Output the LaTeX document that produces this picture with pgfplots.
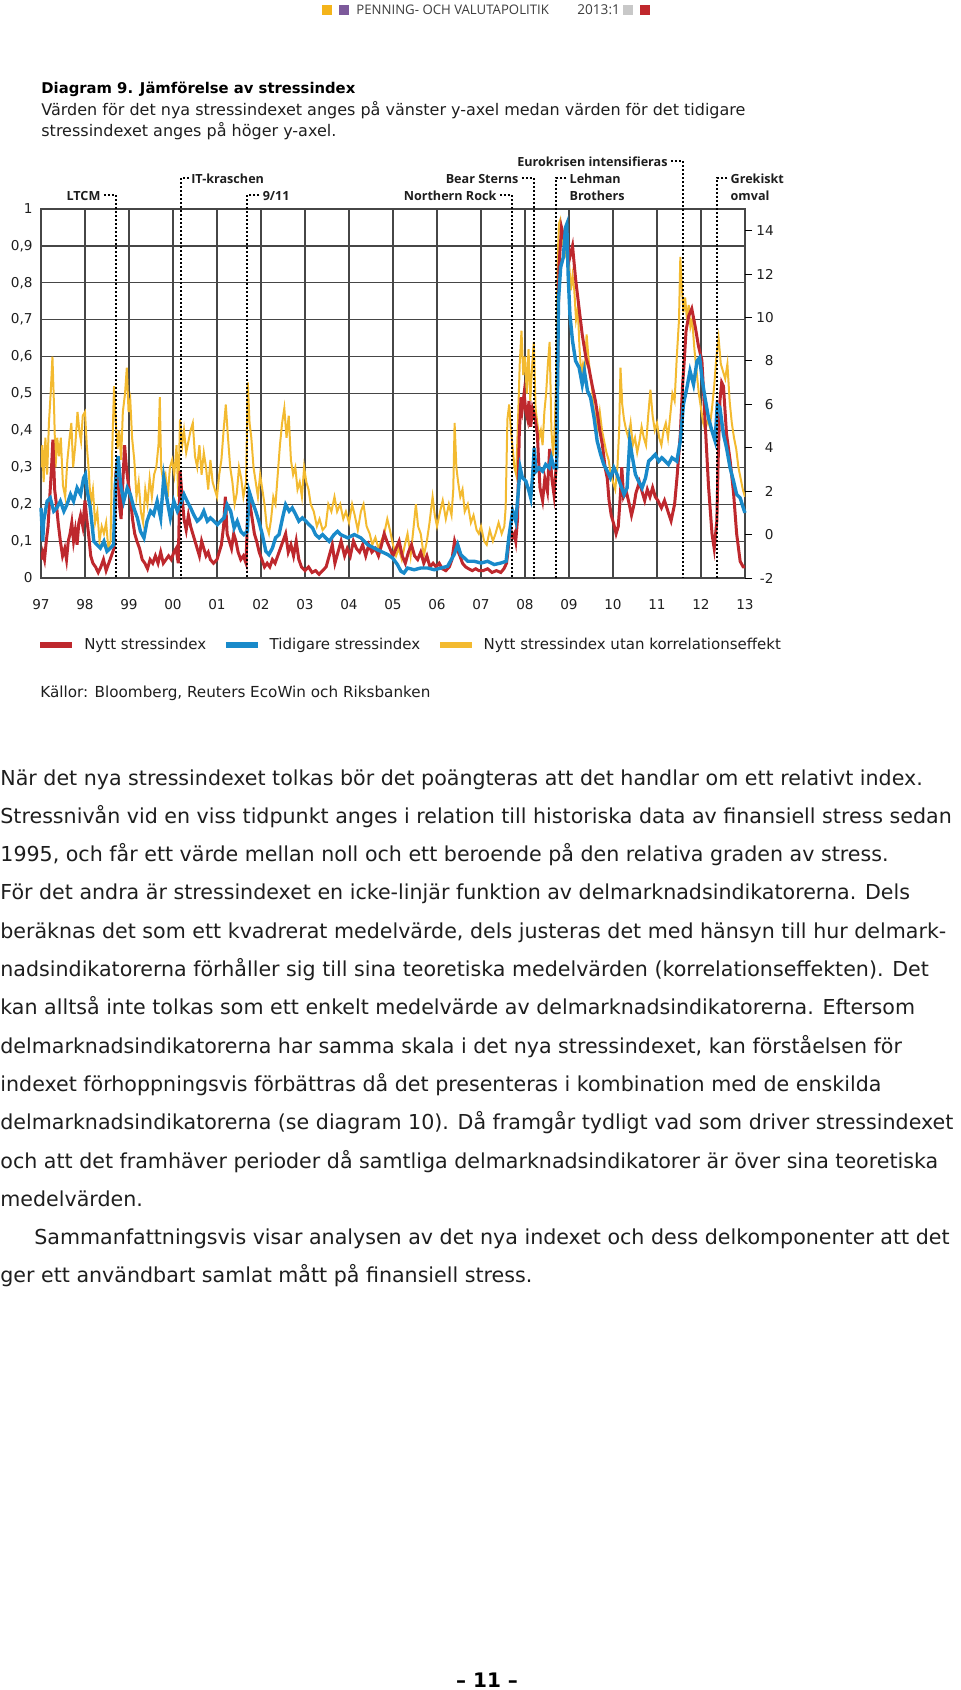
\documentclass[border=0pt]{standalone}
\usepackage{fontspec}
\setmainfont{DejaVu Sans}
\newfontfamily\osfont{Open Sans}
\usepackage{pgfplots}
\usepackage{pgfplotstable}
\pgfplotsset{compat=1.18}

\definecolor{nyttred}{RGB}{190,40,45}
\definecolor{tidblue}{RGB}{25,138,202}
\definecolor{utanyel}{RGB}{243,186,48}
\definecolor{gridc}{RGB}{70,70,70}
\definecolor{txt}{RGB}{30,30,30}
\definecolor{hdrtxt}{RGB}{60,60,60}
\definecolor{hdryel}{RGB}{244,180,26}
\definecolor{hdrpur}{RGB}{125,90,155}
\definecolor{hdrgry}{RGB}{200,200,200}
\definecolor{hdrred}{RGB}{192,40,45}

% Nytt stressindex (left axis)
\pgfplotstableread{
x y
1997.00 0.05
1997.04 0.07
1997.08 0.05
1997.12 0.10
1997.16 0.14
1997.20 0.22
1997.24 0.30
1997.27 0.375
1997.31 0.24
1997.35 0.20
1997.39 0.15
1997.44 0.10
1997.49 0.06
1997.54 0.08
1997.58 0.05
1997.62 0.10
1997.66 0.12
1997.70 0.15
1997.74 0.10
1997.78 0.13
1997.82 0.09
1997.86 0.15
1997.90 0.17
1997.95 0.14
1998.00 0.21
1998.04 0.16
1998.08 0.12
1998.13 0.06
1998.18 0.04
1998.24 0.03
1998.30 0.015
1998.36 0.03
1998.42 0.05
1998.48 0.02
1998.54 0.04
1998.60 0.06
1998.66 0.08
1998.70 0.28
1998.74 0.32
1998.78 0.20
1998.82 0.16
1998.86 0.26
1998.90 0.36
1998.94 0.30
1998.98 0.26
1999.03 0.22
1999.08 0.16
1999.13 0.12
1999.18 0.10
1999.24 0.08
1999.30 0.05
1999.36 0.04
1999.42 0.025
1999.48 0.05
1999.54 0.04
1999.60 0.06
1999.66 0.04
1999.72 0.07
1999.78 0.04
1999.84 0.05
1999.90 0.06
1999.96 0.05
2000.02 0.07
2000.07 0.08
2000.12 0.04
2000.16 0.29
2000.20 0.23
2000.25 0.16
2000.30 0.13
2000.35 0.17
2000.40 0.14
2000.45 0.12
2000.50 0.10
2000.55 0.08
2000.60 0.06
2000.65 0.10
2000.70 0.08
2000.75 0.06
2000.80 0.07
2000.85 0.05
2000.92 0.04
2001.00 0.05
2001.05 0.07
2001.10 0.09
2001.15 0.14
2001.19 0.22
2001.23 0.12
2001.28 0.10
2001.33 0.08
2001.38 0.12
2001.43 0.10
2001.48 0.07
2001.54 0.05
2001.60 0.06
2001.66 0.04
2001.71 0.235
2001.75 0.20
2001.80 0.16
2001.85 0.12
2001.90 0.10
2001.96 0.07
2002.02 0.05
2002.08 0.03
2002.14 0.04
2002.20 0.03
2002.26 0.05
2002.32 0.04
2002.38 0.06
2002.44 0.08
2002.50 0.10
2002.56 0.12
2002.62 0.07
2002.68 0.09
2002.74 0.06
2002.80 0.10
2002.86 0.05
2002.92 0.03
2003.00 0.02
2003.08 0.03
2003.16 0.015
2003.24 0.02
2003.32 0.01
2003.40 0.02
2003.48 0.03
2003.55 0.06
2003.62 0.09
2003.68 0.04
2003.75 0.07
2003.82 0.10
2003.90 0.06
2003.96 0.08
2004.03 0.06
2004.10 0.10
2004.17 0.08
2004.24 0.07
2004.31 0.09
2004.38 0.06
2004.45 0.09
2004.52 0.07
2004.60 0.08
2004.67 0.06
2004.74 0.09
2004.80 0.12
2004.86 0.10
2004.93 0.08
2005.00 0.06
2005.07 0.08
2005.14 0.10
2005.21 0.06
2005.28 0.04
2005.35 0.07
2005.42 0.09
2005.49 0.06
2005.56 0.05
2005.63 0.07
2005.70 0.04
2005.77 0.06
2005.84 0.03
2005.91 0.04
2005.98 0.03
2006.05 0.04
2006.12 0.025
2006.20 0.02
2006.28 0.03
2006.34 0.05
2006.40 0.10
2006.45 0.08
2006.52 0.06
2006.58 0.04
2006.65 0.03
2006.72 0.025
2006.80 0.02
2006.88 0.025
2006.95 0.02
2007.05 0.02
2007.15 0.025
2007.25 0.015
2007.35 0.02
2007.45 0.015
2007.52 0.025
2007.58 0.04
2007.61 0.07
2007.65 0.12
2007.68 0.13
2007.72 0.11
2007.76 0.12
2007.79 0.10
2007.83 0.16
2007.87 0.39
2007.91 0.49
2007.94 0.46
2007.98 0.50
2008.02 0.45
2008.06 0.43
2008.09 0.48
2008.13 0.41
2008.17 0.46
2008.22 0.44
2008.28 0.39
2008.34 0.245
2008.40 0.21
2008.45 0.27
2008.51 0.235
2008.56 0.35
2008.61 0.27
2008.66 0.225
2008.72 0.32
2008.77 0.84
2008.83 0.95
2008.89 0.92
2008.95 0.94
2009.00 0.86
2009.08 0.90
2009.15 0.81
2009.23 0.73
2009.30 0.66
2009.38 0.60
2009.45 0.57
2009.53 0.52
2009.60 0.48
2009.64 0.45
2009.70 0.40
2009.76 0.36
2009.82 0.30
2009.87 0.27
2009.91 0.21
2009.96 0.17
2010.02 0.145
2010.07 0.12
2010.12 0.14
2010.17 0.23
2010.20 0.30
2010.24 0.22
2010.30 0.235
2010.37 0.20
2010.42 0.17
2010.48 0.20
2010.52 0.23
2010.60 0.26
2010.67 0.23
2010.72 0.21
2010.78 0.24
2010.84 0.22
2010.90 0.245
2010.96 0.22
2011.02 0.21
2011.10 0.19
2011.17 0.21
2011.25 0.18
2011.32 0.155
2011.40 0.20
2011.46 0.28
2011.53 0.39
2011.58 0.52
2011.62 0.59
2011.66 0.67
2011.72 0.71
2011.79 0.73
2011.87 0.68
2011.94 0.63
2012.02 0.59
2012.09 0.43
2012.17 0.25
2012.25 0.12
2012.30 0.08
2012.36 0.155
2012.39 0.32
2012.43 0.48
2012.47 0.53
2012.51 0.52
2012.58 0.39
2012.66 0.32
2012.74 0.23
2012.81 0.12
2012.89 0.045
2012.96 0.03
2013.00 0.03
}\nytt

% Nytt stressindex utan korrelationseffekt (left axis)
\pgfplotstableread{
x y
1997.00 0.30
1997.03 0.36
1997.06 0.26
1997.10 0.38
1997.14 0.28
1997.18 0.42
1997.22 0.50
1997.26 0.60
1997.30 0.45
1997.33 0.30
1997.37 0.38
1997.41 0.33
1997.45 0.38
1997.50 0.25
1997.55 0.22
1997.60 0.32
1997.65 0.38
1997.69 0.42
1997.73 0.30
1997.78 0.36
1997.83 0.45
1997.87 0.40
1997.91 0.37
1997.95 0.44
1998.00 0.45
1998.04 0.36
1998.08 0.30
1998.13 0.20
1998.18 0.24
1998.23 0.15
1998.28 0.18
1998.33 0.10
1998.38 0.14
1998.43 0.12
1998.48 0.15
1998.53 0.08
1998.58 0.10
1998.62 0.35
1998.66 0.52
1998.70 0.42
1998.74 0.35
1998.78 0.40
1998.82 0.32
1998.86 0.45
1998.91 0.50
1998.95 0.57
1998.99 0.45
1999.03 0.48
1999.07 0.38
1999.12 0.32
1999.17 0.22
1999.22 0.26
1999.27 0.18
1999.32 0.15
1999.37 0.24
1999.42 0.20
1999.47 0.27
1999.52 0.22
1999.57 0.28
1999.62 0.30
1999.67 0.36
1999.70 0.49
1999.73 0.30
1999.78 0.26
1999.83 0.28
1999.88 0.22
1999.93 0.30
1999.98 0.32
2000.03 0.28
2000.08 0.36
2000.12 0.22
2000.16 0.43
2000.21 0.36
2000.25 0.40
2000.30 0.34
2000.35 0.37
2000.40 0.40
2000.45 0.42
2000.50 0.33
2000.55 0.30
2000.60 0.36
2000.65 0.28
2000.70 0.34
2000.75 0.30
2000.80 0.24
2000.85 0.32
2000.90 0.26
2000.95 0.24
2001.00 0.22
2001.05 0.28
2001.10 0.32
2001.15 0.40
2001.20 0.47
2001.25 0.38
2001.30 0.30
2001.35 0.26
2001.40 0.20
2001.45 0.23
2001.50 0.30
2001.55 0.27
2001.60 0.22
2001.66 0.26
2001.70 0.53
2001.74 0.42
2001.78 0.38
2001.83 0.30
2001.88 0.26
2001.93 0.22
2001.98 0.28
2002.03 0.24
2002.08 0.20
2002.13 0.14
2002.18 0.12
2002.23 0.16
2002.28 0.22
2002.33 0.20
2002.38 0.28
2002.43 0.36
2002.48 0.42
2002.53 0.46
2002.58 0.38
2002.63 0.44
2002.68 0.32
2002.73 0.28
2002.78 0.30
2002.83 0.24
2002.88 0.26
2002.93 0.22
2002.98 0.30
2003.03 0.26
2003.08 0.24
2003.13 0.20
2003.20 0.18
2003.27 0.14
2003.33 0.16
2003.40 0.13
2003.47 0.14
2003.53 0.20
2003.60 0.18
2003.67 0.22
2003.73 0.18
2003.80 0.20
2003.87 0.16
2003.93 0.18
2004.00 0.15
2004.07 0.20
2004.13 0.17
2004.20 0.13
2004.27 0.18
2004.33 0.20
2004.40 0.14
2004.47 0.12
2004.53 0.09
2004.60 0.11
2004.67 0.08
2004.73 0.10
2004.80 0.12
2004.87 0.16
2004.93 0.13
2005.00 0.09
2005.07 0.06
2005.13 0.08
2005.20 0.05
2005.27 0.09
2005.33 0.12
2005.40 0.06
2005.47 0.14
2005.52 0.20
2005.57 0.14
2005.63 0.12
2005.70 0.06
2005.77 0.10
2005.83 0.15
2005.90 0.22
2005.95 0.17
2006.00 0.14
2006.07 0.18
2006.13 0.21
2006.20 0.16
2006.27 0.20
2006.33 0.17
2006.37 0.24
2006.40 0.42
2006.44 0.30
2006.48 0.26
2006.53 0.22
2006.58 0.24
2006.63 0.18
2006.70 0.20
2006.77 0.15
2006.83 0.17
2006.90 0.13
2006.95 0.12
2007.00 0.14
2007.07 0.10
2007.13 0.09
2007.20 0.13
2007.27 0.10
2007.33 0.12
2007.40 0.15
2007.47 0.12
2007.53 0.14
2007.56 0.19
2007.60 0.43
2007.64 0.47
2007.68 0.40
2007.72 0.35
2007.76 0.30
2007.80 0.28
2007.84 0.42
2007.88 0.58
2007.92 0.67
2007.96 0.55
2008.00 0.60
2008.04 0.50
2008.08 0.62
2008.12 0.48
2008.16 0.57
2008.20 0.64
2008.24 0.46
2008.28 0.42
2008.32 0.38
2008.36 0.40
2008.40 0.36
2008.44 0.45
2008.48 0.50
2008.52 0.58
2008.56 0.64
2008.60 0.40
2008.64 0.33
2008.68 0.42
2008.71 0.55
2008.74 0.85
2008.77 0.96
2008.80 0.97
2008.84 0.90
2008.88 0.94
2008.92 0.88
2008.96 0.90
2009.00 0.86
2009.04 0.78
2009.08 0.82
2009.12 0.78
2009.16 0.70
2009.20 0.73
2009.24 0.62
2009.28 0.55
2009.32 0.58
2009.36 0.56
2009.40 0.66
2009.44 0.60
2009.48 0.55
2009.52 0.52
2009.56 0.46
2009.60 0.44
2009.65 0.40
2009.70 0.45
2009.75 0.40
2009.80 0.37
2009.85 0.34
2009.90 0.32
2009.95 0.28
2010.00 0.26
2010.05 0.24
2010.10 0.30
2010.14 0.40
2010.17 0.57
2010.21 0.47
2010.25 0.43
2010.30 0.40
2010.35 0.38
2010.40 0.42
2010.45 0.36
2010.50 0.38
2010.55 0.34
2010.60 0.37
2010.65 0.41
2010.70 0.38
2010.75 0.36
2010.80 0.44
2010.85 0.51
2010.90 0.44
2010.95 0.40
2011.00 0.42
2011.05 0.38
2011.10 0.36
2011.15 0.40
2011.20 0.42
2011.25 0.38
2011.30 0.44
2011.35 0.50
2011.40 0.48
2011.45 0.60
2011.50 0.70
2011.53 0.87
2011.56 0.80
2011.60 0.72
2011.64 0.76
2011.68 0.70
2011.72 0.74
2011.76 0.68
2011.80 0.70
2011.85 0.62
2011.90 0.56
2011.95 0.50
2012.00 0.46
2012.05 0.42
2012.10 0.40
2012.15 0.43
2012.20 0.41
2012.25 0.46
2012.30 0.52
2012.35 0.60
2012.40 0.65
2012.45 0.58
2012.50 0.56
2012.55 0.54
2012.60 0.58
2012.65 0.48
2012.70 0.42
2012.75 0.38
2012.80 0.35
2012.85 0.30
2012.90 0.27
2012.95 0.24
2013.00 0.22
}\utan

% Tidigare stressindex (right axis)
\pgfplotstableread{
x y
1997.00 1.23
1997.04 -0.31
1997.06 0.62
1997.14 1.54
1997.21 1.69
1997.29 1.08
1997.36 1.23
1997.44 1.54
1997.52 1.08
1997.59 1.38
1997.67 1.85
1997.74 1.54
1997.82 2.15
1997.90 1.85
1997.97 2.62
1998.01 2.77
1998.05 2.00
1998.12 1.23
1998.20 -0.31
1998.27 -0.46
1998.35 -0.62
1998.43 -0.31
1998.50 -0.77
1998.58 -0.62
1998.65 -0.46
1998.69 2.31
1998.75 3.62
1998.81 2.31
1998.88 1.54
1998.96 2.15
1999.03 1.85
1999.11 1.23
1999.19 0.77
1999.26 0.15
1999.34 -0.15
1999.41 0.62
1999.49 1.08
1999.56 0.92
1999.64 1.54
1999.72 0.77
1999.79 2.62
1999.87 1.54
1999.94 0.77
2000.02 1.54
2000.10 1.08
2000.17 1.38
2000.25 1.85
2000.32 1.54
2000.40 1.23
2000.47 0.92
2000.55 0.62
2000.63 0.77
2000.70 1.08
2000.78 0.62
2000.85 0.77
2000.93 0.62
2001.01 0.46
2001.08 0.62
2001.16 0.77
2001.23 1.38
2001.31 1.08
2001.39 0.31
2001.46 0.62
2001.54 0.15
2001.61 0.00
2001.69 0.15
2001.73 2.00
2001.80 1.54
2001.88 1.08
2001.95 0.62
2002.03 0.00
2002.11 -0.77
2002.18 -0.92
2002.26 -0.62
2002.33 -0.15
2002.41 0.00
2002.49 0.77
2002.56 1.38
2002.64 1.08
2002.71 1.23
2002.79 0.92
2002.86 0.62
2002.94 0.77
2003.02 0.62
2003.09 0.46
2003.17 0.31
2003.24 0.00
2003.32 -0.15
2003.40 0.00
2003.47 -0.15
2003.55 -0.31
2003.66 0.00
2003.74 0.15
2003.81 0.00
2003.97 -0.15
2004.12 0.00
2004.27 -0.15
2004.42 -0.46
2004.57 -0.62
2004.72 -0.77
2004.88 -0.92
2004.99 -1.08
2005.10 -1.38
2005.18 -1.69
2005.25 -1.77
2005.33 -1.54
2005.48 -1.62
2005.63 -1.54
2005.79 -1.54
2005.94 -1.62
2006.09 -1.54
2006.24 -1.46
2006.39 -0.92
2006.47 -0.46
2006.54 -0.92
2006.70 -1.23
2006.85 -1.23
2007.00 -1.31
2007.15 -1.23
2007.30 -1.38
2007.45 -1.31
2007.57 -1.23
2007.64 0.00
2007.72 1.08
2007.79 0.62
2007.83 1.54
2007.89 3.08
2007.94 2.62
2008.02 2.46
2008.09 2.00
2008.13 1.69
2008.17 2.62
2008.21 4.00
2008.25 2.92
2008.32 3.08
2008.40 2.92
2008.47 3.23
2008.55 3.08
2008.60 3.54
2008.66 3.08
2008.72 3.08
2008.76 10.77
2008.81 12.31
2008.87 12.77
2008.92 14.15
2008.95 14.31
2008.98 12.00
2009.02 10.15
2009.08 8.92
2009.15 8.00
2009.23 7.69
2009.30 6.92
2009.35 7.54
2009.42 6.62
2009.49 6.31
2009.57 5.38
2009.64 4.31
2009.72 3.69
2009.79 3.23
2009.87 2.92
2009.94 2.62
2010.02 3.08
2010.09 2.77
2010.17 2.31
2010.25 1.85
2010.32 2.15
2010.38 4.31
2010.43 3.69
2010.51 2.77
2010.58 2.46
2010.66 2.15
2010.74 2.62
2010.81 3.38
2010.89 3.54
2010.96 3.69
2011.04 3.38
2011.11 3.54
2011.19 3.38
2011.26 3.23
2011.34 3.54
2011.45 3.38
2011.53 4.31
2011.60 6.00
2011.68 6.77
2011.75 7.54
2011.83 6.92
2011.91 8.00
2011.97 8.15
2012.02 7.23
2012.09 6.31
2012.17 5.38
2012.25 4.77
2012.32 4.31
2012.37 6.00
2012.43 5.85
2012.51 4.62
2012.58 4.00
2012.66 3.08
2012.74 2.46
2012.81 1.85
2012.89 1.69
2012.96 1.23
2013.00 1.00
}\tidigare

\tikzset{
  event/.style={black, line width=1pt, dash pattern=on 1pt off 1pt},
  lab/.style={font=\osfont\fontsize{6.3}{7.5}\selectfont\bfseries, inner sep=0pt, text=txt},
  body/.style={anchor=base west, inner sep=0pt, font=\fontsize{10.3}{12}\selectfont, text=txt},
}
% rows of the event labels, in right-axis units
\def\rowA{17.21}
\def\rowB{16.43}
\def\rowC{15.645}

\begin{document}
\begin{tikzpicture}
\begin{scope}[x=0.5pt, y=-0.5pt]
  \path[use as bounding box] (0,0) rectangle (960,1690);
  % header
  \fill[hdryel] (322,5) rectangle (332,15);
  \fill[hdrpur] (339,5) rectangle (349,15);
  \node[anchor=west, inner sep=0pt, font=\osfont\fontsize{6.6}{8}\selectfont, text=hdrtxt] at (356,10) {PENNING- OCH VALUTAPOLITIK};
  \node[anchor=west, inner sep=0pt, font=\osfont\fontsize{6.8}{8}\selectfont, text=hdrtxt] at (577,10) {2013:1};
  \fill[hdrgry] (623,5) rectangle (633,15);
  \fill[hdrred] (640,5) rectangle (650,15);
  % title
  \node[anchor=base west, inner sep=0pt, font=\fontsize{7.4}{9}\selectfont\bfseries, text=black] at (41,94) {Diagram 9. Jämförelse av stressindex};
  \node[anchor=base west, inner sep=0pt, font=\fontsize{8.0}{9}\selectfont, text=txt] at (41,116) {Värden för det nya stressindexet anges på vänster y-axel medan värden för det tidigare};
  \node[anchor=base west, inner sep=0pt, font=\fontsize{8.0}{9}\selectfont, text=txt] at (41,137) {stressindexet anges på höger y-axel.};
  % source
  \node[anchor=base west, inner sep=0pt, font=\fontsize{7.6}{9}\selectfont, text=txt] at (40,697) {Källor: Bloomberg, Reuters EcoWin och Riksbanken};
  % body text
  \node[body] at (0,785) {När det nya stressindexet tolkas bör det poängteras att det handlar om ett relativt index.};
  \node[body] at (0,823.3) {Stressnivån vid en viss tidpunkt anges i relation till historiska data av finansiell stress sedan};
  \node[body] at (0,861.6) {1995, och får ett värde mellan noll och ett beroende på den relativa graden av stress.};
  \node[body] at (0,899.9) {För det andra är stressindexet en icke-linjär funktion av delmarknadsindikatorerna. Dels};
  \node[body] at (0,938.2) {beräknas det som ett kvadrerat medelvärde, dels justeras det med hänsyn till hur delmark-};
  \node[body] at (0,976.5) {nadsindikatorerna förhåller sig till sina teoretiska medelvärden (korrelationseffekten). Det};
  \node[body] at (0,1014.8) {kan alltså inte tolkas som ett enkelt medelvärde av delmarknadsindikatorerna. Eftersom};
  \node[body] at (0,1053.1) {delmarknadsindikatorerna har samma skala i det nya stressindexet, kan förståelsen för};
  \node[body] at (0,1091.4) {indexet förhoppningsvis förbättras då det presenteras i kombination med de enskilda};
  \node[body] at (0,1129.7) {delmarknadsindikatorerna (se diagram 10). Då framgår tydligt vad som driver stressindexet};
  \node[body] at (0,1168) {och att det framhäver perioder då samtliga delmarknadsindikatorer är över sina teoretiska};
  \node[body] at (0,1206.3) {medelvärden.};
  \node[body] at (34,1244.6) {Sammanfattningsvis visar analysen av det nya indexet och dess delkomponenter att det};
  \node[body] at (0,1282.9) {ger ett användbart samlat mått på finansiell stress.};
  % page number
  \node[inner sep=0pt, font=\fontsize{10}{12}\selectfont\bfseries, text=black] at (487,1680) {– 11 –};
\end{scope}

\begin{axis}[
  at={(20.5pt,-289pt)}, anchor=south west,
  scale only axis, width=352pt, height=184.5pt,
  xmin=1997, xmax=2013, ymin=0, ymax=1,
  xtick={1997,...,2013},
  xticklabels={97,98,99,00,01,02,03,04,05,06,07,08,09,10,11,12,13},
  ytick={0,0.1,0.2,0.3,0.4,0.5,0.6,0.7,0.8,0.9,1},
  extra y ticks={0}, extra y tick labels={},
  extra y tick style={grid style={black, line width=0.9pt}},
  grid=major,
  major grid style={draw=gridc, line width=0.6pt},
  axis line style={draw=gridc, line width=0.6pt},
  major tick length=0pt,
  tick label style={font=\fontsize{6.8}{8}\selectfont, text=txt},
  /pgf/number format/assume math mode=true,
  /pgf/number format/use comma,
  yticklabel style={inner xsep=4pt},
  xticklabel style={yshift=-4.5pt, text height=1.4ex},
  legend columns=3,
  legend style={at={(-0.005,-0.1816)}, anchor=west, draw=none, fill=none, inner sep=0pt,
    font=\fontsize{7.5}{9}\selectfont, text=txt,
    /tikz/every odd column/.style={column sep=2.6pt},
    /tikz/every even column/.style={column sep=6.5pt}},
  legend image code/.code={\draw[#1, line width=2.6pt] (0pt,0pt) -- (16pt,0pt);},
]
\addlegendimage{nyttred}\addlegendentry{Nytt stressindex}
\addlegendimage{tidblue}\addlegendentry{Tidigare stressindex}
\addlegendimage{utanyel}\addlegendentry{Nytt stressindex utan korrelationseffekt}
\addplot[utanyel, line width=1pt, forget plot] table {\utan};
\addplot[nyttred, line width=1.5pt, forget plot] table {\nytt};
\end{axis}

\begin{axis}[
  at={(20.5pt,-289pt)}, anchor=south west,
  scale only axis, width=352pt, height=184.5pt,
  xmin=1997, xmax=2013, ymin=-2, ymax=15,
  axis x line=none, axis y line*=right,
  y axis line style={draw=none},
  ytick={-2,0,2,4,6,8,10,12,14},
  tick align=outside, major tick length=3.5pt,
  ytick style={draw=black, line width=0.5pt},
  yticklabel style={font=\fontsize{6.8}{8}\selectfont, text=txt, inner xsep=2pt, text width=8.5pt, align=right},
  /pgf/number format/assume math mode=true,
  clip=false,
]
\addplot[tidblue, line width=1.7pt] table {\tidigare};
% events
\draw[event] ([xshift=-6pt]axis cs:1998.70,\rowC) -- (axis cs:1998.70,\rowC) -- (axis cs:1998.70,-2);
\node[lab, anchor=mid east, xshift=-7.5pt] at (axis cs:1998.70,\rowC) {LTCM};
\draw[event] ([xshift=4pt]axis cs:2000.18,\rowB) -- (axis cs:2000.18,\rowB) -- (axis cs:2000.18,-2);
\node[lab, anchor=mid west, xshift=5pt] at (axis cs:2000.18,\rowB) {IT-kraschen};
\draw[event] ([xshift=6pt]axis cs:2001.69,\rowC) -- (axis cs:2001.69,\rowC) -- (axis cs:2001.69,-2);
\node[lab, anchor=mid west, xshift=7.5pt] at (axis cs:2001.69,\rowC) {9/11};
\draw[event] ([xshift=-6pt]axis cs:2007.70,\rowC) -- (axis cs:2007.70,\rowC) -- (axis cs:2007.70,-2);
\node[lab, anchor=mid east, xshift=-7.5pt] at (axis cs:2007.70,\rowC) {Northern Rock};
\draw[event] ([xshift=-6pt]axis cs:2008.20,\rowB) -- (axis cs:2008.20,\rowB) -- (axis cs:2008.20,-2);
\node[lab, anchor=mid east, xshift=-7.5pt] at (axis cs:2008.20,\rowB) {Bear Sterns};
\draw[event] ([xshift=5pt]axis cs:2008.71,\rowB) -- (axis cs:2008.71,\rowB) -- (axis cs:2008.71,-2);
\node[lab, anchor=mid west, xshift=6.5pt] at (axis cs:2008.71,\rowB) {Lehman};
\node[lab, anchor=mid west, xshift=6.5pt] at (axis cs:2008.71,\rowC) {Brothers};
\draw[event] ([xshift=-6pt]axis cs:2011.59,\rowA) -- (axis cs:2011.59,\rowA) -- (axis cs:2011.59,-2);
\node[lab, anchor=mid east, xshift=-7.5pt] at (axis cs:2011.59,\rowA) {Eurokrisen intensifieras};
\draw[event] ([xshift=5pt]axis cs:2012.37,\rowB) -- (axis cs:2012.37,\rowB) -- (axis cs:2012.37,-2);
\node[lab, anchor=mid west, xshift=6.5pt] at (axis cs:2012.37,\rowB) {Grekiskt};
\node[lab, anchor=mid west, xshift=6.5pt] at (axis cs:2012.37,\rowC) {omval};
\end{axis}
\end{tikzpicture}
\end{document}
